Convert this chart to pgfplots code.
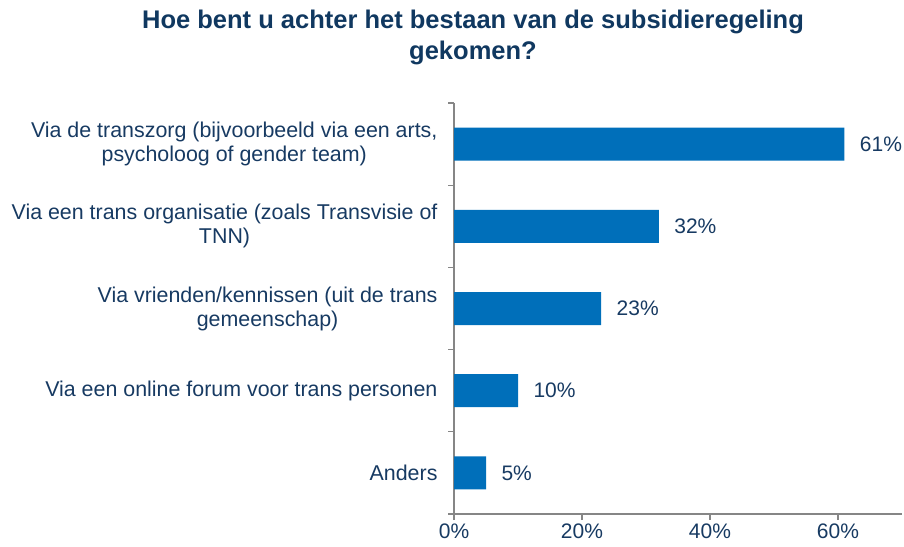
\documentclass[border=0pt]{standalone}
\usepackage{pgfplots}
\pgfplotsset{compat=1.18}
\usepackage{fontspec}
\setmainfont{Liberation Sans}
\definecolor{barblue}{RGB}{0,111,186}
\definecolor{txtblue}{RGB}{23,58,98}
\definecolor{ttlblue}{RGB}{16,56,96}
\definecolor{axgray}{RGB}{134,134,134}
\begin{document}
\begin{tikzpicture}[x=1pt,y=1pt]
\useasboundingbox (0,0) rectangle (904,546);
\node[anchor=north, align=center, font=\fontsize{25.5}{31}\selectfont\bfseries, text=ttlblue, inner sep=0pt] at (473,536)
  {Hoe bent u achter het bestaan van de subsidieregeling\\gekomen?};
\begin{axis}[
  at={(454pt,32pt)}, anchor=south west,
  scale only axis, width=448pt, height=411pt,
  xbar, bar width=33pt, bar shift=0pt,
  xmin=0, xmax=70, ymin=-0.5, ymax=4.5,
  axis x line*=bottom, axis y line*=left,
  axis line style={-, draw=axgray, line width=1.2pt},
  tick align=outside,
  major tick length=6pt, minor tick length=6pt,
  xtick={0,20,40,60}, xticklabels={0\%,20\%,40\%,60\%},
  xtick style={draw=axgray, line width=1.2pt},
  ytick={0,1,2,3,4},
  yticklabels={Anders, Via een online forum voor trans personen, {Via vrienden/kennissen (uit de trans\\gemeenschap)}, {Via een trans organisatie (zoals Transvisie of\\TNN)}, {Via de transzorg (bijvoorbeeld via een arts,\\psycholoog of gender team)}},
  every major y tick/.append style={draw=none},
  minor ytick={-0.5,0.5,1.5,2.5,3.5,4.5},
  every minor y tick/.append style={draw=axgray, line width=1.2pt},
  yticklabel style={align=center, font=\fontsize{21.4}{24}\selectfont, text=txtblue, xshift=-7pt},
  xticklabel style={font=\fontsize{21}{24}\selectfont, text=txtblue},
  /pgf/number format/assume math mode=true,
  point meta=x,
  nodes near coords={\pgfmathprintnumber{\pgfplotspointmeta}\%},
  nodes near coords style={font=\fontsize{21}{24}\selectfont, text=txtblue, anchor=west, xshift=12pt},
]
\addplot[fill=barblue, draw=none] coordinates {(5,0) (10,1) (23,2) (32,3) (61,4)};
\end{axis}
\end{tikzpicture}
\end{document}
